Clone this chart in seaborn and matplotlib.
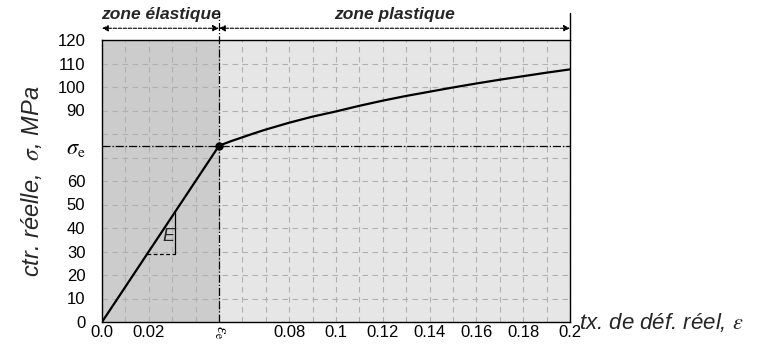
import numpy as np
import pandas as pd
import matplotlib
matplotlib.use("Agg")
import matplotlib.pyplot as plt
import seaborn as sns
from matplotlib.ticker import MultipleLocator
from matplotlib.patches import Arc

# ---- data ----
strain = [0.0, 0.05, 0.055, 0.06, 0.065, 0.07, 0.08, 0.09, 0.10, 0.11, 0.12, 0.13,
          0.14, 0.15, 0.16, 0.17, 0.18, 0.19, 0.20]
stress = [0.0, 75.0, 76.9, 78.6, 80.3, 81.9, 84.8, 87.4, 89.6, 92.0, 94.2, 96.2,
          98.0, 99.8, 101.5, 103.1, 104.6, 106.1, 107.5]
eps_e = 0.05
sig_e = 75.0
xtick_vals = [0.0, 0.02, 0.05, 0.08, 0.1, 0.12, 0.14, 0.16, 0.18, 0.2]
xtick_labels = ["0.0", "0.02", r"$\varepsilon_\mathrm{e}$", "0.08", "0.1", "0.12", "0.14", "0.16", "0.18", "0.2"]
ytick_vals = [0, 10, 20, 30, 40, 50, 60, 75, 90, 100, 110, 120]
ytick_labels = ["0", "10", "20", "30", "40", "50", "60", r"$\sigma_\mathrm{e}$", "90", "100", "110", "120"]
tri_x = [0.0193, 0.0313]
tri_y = [28.8, 47.0]
zone_labels = ["zone élastique", "zone plastique"]

sns.set_theme(style="white")
plt.rcParams["font.family"] = ["Liberation Sans", "DejaVu Sans"]
plt.rcParams["mathtext.fontset"] = "stix"

fig = plt.figure(figsize=(7.62, 3.45), dpi=100)
ax = fig.add_axes([102/762, 1-322/345, 468/762, 282/345])

ax.axvspan(0, eps_e, color="#cccccc", zorder=0, lw=0)
ax.axvspan(eps_e, 0.2, color="#e6e6e6", zorder=0, lw=0)

df = pd.DataFrame({"strain": strain, "stress": stress})
sns.lineplot(data=df, x="strain", y="stress", ax=ax, color="black", lw=1.6, zorder=5)
ax.plot([eps_e], [sig_e], "o", color="black", ms=5, zorder=6)

ax.set_xlim(0, 0.2)
ax.set_ylim(0, 120)
ax.set_xticks(xtick_vals)
ax.set_xticklabels(xtick_labels, fontsize=12)
ax.set_yticks(ytick_vals)
ax.set_yticklabels(ytick_labels, fontsize=12)
for lab in ax.get_xticklabels():
    if "varepsilon" in lab.get_text():
        lab.set_rotation(-90)
        lab.set_fontsize(12)
for lab in ax.get_yticklabels():
    if "sigma" in lab.get_text():
        lab.set_fontsize(16)
ax.xaxis.set_minor_locator(MultipleLocator(0.01))
ax.yaxis.set_minor_locator(MultipleLocator(10))
ax.tick_params(axis="x", which="both", length=0, pad=2, colors="black")
ax.tick_params(axis="y", which="both", length=0, pad=12, colors="black")
ax.grid(which="both", color="#b0b0b0", linestyle=(0, (5, 4)), lw=0.8)
ax.set_axisbelow(True)
for s in ax.spines.values():
    s.set_color("black")
    s.set_linewidth(1.0)

ax.set_xlabel("")
ax.set_ylabel(r"ctr. réelle,  $\sigma$, MPa", fontsize=17, style="italic", labelpad=10)
ax.text(1.02, 0.0, r"tx. de déf. réel, $\varepsilon$", transform=ax.transAxes,
        fontsize=16, style="italic", ha="left", va="center")

# reference lines
ax.axhline(sig_e, color="black", lw=0.9, linestyle="-.", zorder=4)
ax.plot([eps_e, eps_e], [0, 131.5], color="black", lw=0.9, linestyle="-.", clip_on=False, zorder=4)
ax.plot([0.2, 0.2], [120, 131.5], color="black", lw=1.0, clip_on=False, zorder=4)

# zone arrows
arr_y = 125.0
for (x0, x1), lbl in zip([(0.0, eps_e), (eps_e, 0.2)], zone_labels):
    ax.annotate("", xy=(x1, arr_y), xytext=(x0, arr_y), xycoords="data",
                arrowprops=dict(arrowstyle="<|-|>", color="black", lw=0.8, linestyle=(0, (3, 1.5)),
                                shrinkA=0, shrinkB=0, mutation_scale=9),
                annotation_clip=False)
    ax.text((x0 + x1) / 2, 127.5, lbl, fontsize=12.5, style="italic", fontweight="bold",
            ha="center", va="bottom", clip_on=False)

# modulus triangle
ax.plot([tri_x[0], tri_x[1]], [tri_y[0], tri_y[0]], color="black", lw=0.9, linestyle=(0, (3, 2)), zorder=4)
ax.plot([tri_x[1], tri_x[1]], [tri_y[0], tri_y[1]], color="black", lw=0.9, zorder=4)
arc = Arc((tri_x[0], tri_y[0]), 0.0085, 12, theta1=0, theta2=56, color="black", lw=0.9, zorder=4)
ax.add_patch(arc)
ax.text(0.0282, 36.5, "E", fontsize=13, style="italic", ha="center", va="center")

fig.savefig("out.png", dpi=100)
